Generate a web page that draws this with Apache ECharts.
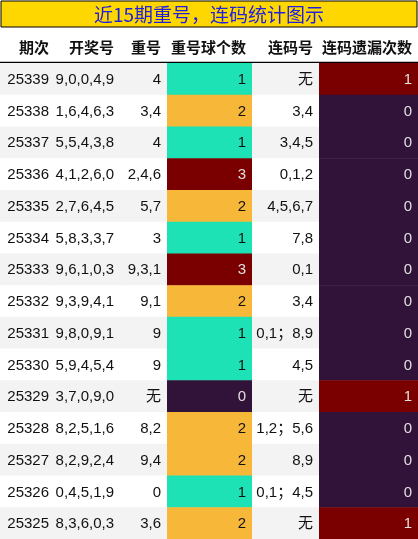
<!DOCTYPE html><html><head><meta charset="utf-8"><script src="https://cdn.jsdelivr.net/npm/echarts@6/dist/echarts.min.js"></script>
<style>html,body{margin:0;padding:0;background:#fff}#c{width:418px;height:539px}</style></head><body><div id="c"></div><script>
const headers=['期次','开奖号','重号','重号球个数','连码号','连码遗漏次数'];
const periods=['25339','25338','25337','25336','25335','25334','25333','25332','25331','25330','25329','25328','25327','25326','25325'];
const draws=['9,0,0,4,9','1,6,4,6,3','5,5,4,3,8','4,1,2,6,0','2,7,6,4,5','5,8,3,3,7','9,6,1,0,3','9,3,9,4,1','9,8,0,9,1','5,9,4,5,4','3,7,0,9,0','8,2,5,1,6','8,2,9,2,4','0,4,5,1,9','8,3,6,0,3'];
const repeats=['4','3,4','4','2,4,6','5,7','3','9,3,1','9,1','9','9','无','8,2','9,4','0','3,6'];
const repeatCount=[1,2,1,3,2,1,3,2,1,1,0,2,2,1,2];
const consec=['无','3,4','3,4,5','0,1,2','4,5,6,7','7,8','0,1','3,4','0,1；8,9','4,5','无','1,2；5,6','8,9','0,1；4,5','无'];
const consecMiss=[1,0,0,0,0,0,0,0,0,0,1,0,0,0,1];
const cols=[periods,draws,repeats,repeatCount,consec,consecMiss];
const edges=[0,55,120,167,252,319,418];
const countColors=['#311238','#1de2b6','#f7b83a','#7a0000'];
const missColors=['#311238','#7a0000'];
const TOP=63,H=476;
const grids=[],xAxes=[],yAxes=[],series=[];
cols.forEach((col,ci)=>{
  grids.push({left:edges[ci],width:edges[ci+1]-edges[ci],top:TOP,height:H});
  xAxes.push({gridIndex:ci,type:'category',data:[headers[ci]],show:false});
  yAxes.push({gridIndex:ci,type:'category',data:periods,inverse:true,show:false});
  series.push({type:'custom',xAxisIndex:ci,yAxisIndex:ci,data:col.map((v,ri)=>[0,ri,v]),
    renderItem:(p,api)=>{
      const ri=api.value(1);const v=col[ri];
      const c=api.coord([0,ri]);const s=api.size([1,1]);
      let fill=ri%2===0?'#f3f3f3':'#ffffff',tc='#111';
      if(ci===3){fill=countColors[v];tc=(v===0||v===3)?'#e0e0e0':'#111';}
      if(ci===5){fill=missColors[v];tc='#e0e0e0';}
      const x0=c[0]-s[0]/2,y0=c[1]-s[1]/2;
      return {type:'group',children:[
        {type:'rect',shape:{x:x0,y:y0,width:s[0]+0.5,height:s[1]+0.5},style:{fill:fill}},
        {type:'text',style:{text:String(v),x:x0+s[0]-6,y:c[1]+1,align:'right',verticalAlign:'middle',fill:tc,font:'15px "Liberation Sans", "Noto Sans CJK SC", sans-serif'}}
      ]};
    }});
});
const graphics=[
  {type:'rect',shape:{x:1,y:1,width:416,height:26},style:{fill:'#ffd700',stroke:'#000',lineWidth:1}},
  {type:'text',style:{text:'近15期重号，连码统计图示',x:209,y:15,align:'center',verticalAlign:'middle',fill:'#1f1fe0',font:'19px "Noto Sans CJK SC", sans-serif'}},
  {type:'line',shape:{x1:0,y1:62.5,x2:418,y2:62.5},style:{stroke:'#000',lineWidth:1.5}}
];
headers.forEach((h,i)=>graphics.push({type:'text',style:{text:h,x:edges[i+1]-6,y:47,align:'right',verticalAlign:'middle',fill:'#111',font:'bold 15px "Noto Sans CJK SC", sans-serif'}}));
const chart=echarts.init(document.getElementById('c'));
chart.setOption({animation:false,grid:grids,xAxis:xAxes,yAxis:yAxes,series:series,graphic:graphics});
</script></body></html>
